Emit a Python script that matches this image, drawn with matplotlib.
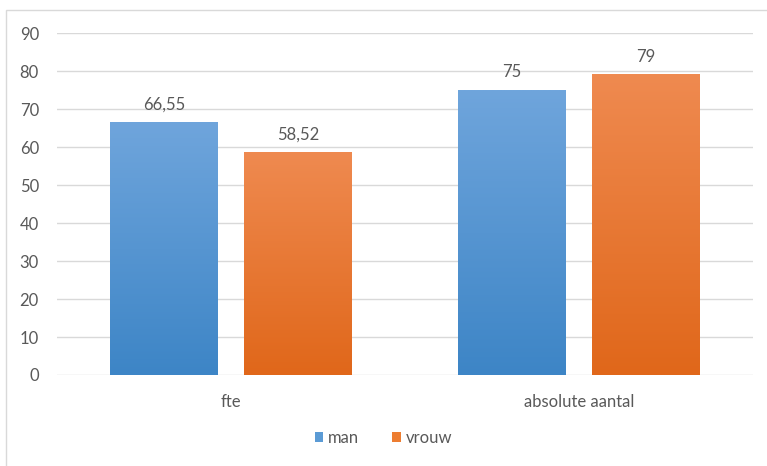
import matplotlib
matplotlib.use("Agg")
import matplotlib.pyplot as plt
import numpy as np
from matplotlib.patches import Rectangle
from matplotlib.colors import LinearSegmentedColormap

# data
categories = ["fte", "absolute aantal"]
series = ["man", "vrouw"]
man = [66.55, 75]
vrouw = [58.52, 79]
labels_man = ["66,55", "75"]
labels_vrouw = ["58,52", "79"]
yticks = [0, 10, 20, 30, 40, 50, 60, 70, 80, 90]

plt.rcParams['font.family'] = ['Lato', 'DejaVu Sans']
text_col = "#595959"

fig = plt.figure(figsize=(7.67, 4.66), dpi=100)
ax = fig.add_axes([0.0743, 0.1953, 0.9077, 0.7337])

# chart border
fig.patches.append(Rectangle((6 / 767, -0.01), 1.0, 1 - 10 / 466 + 0.01,
                             transform=fig.transFigure, fill=False,
                             edgecolor="#d9d9d9", linewidth=1))

x = np.arange(len(categories))
w = 0.31
off = 0.1925

grads = {
    "man": LinearSegmentedColormap.from_list("m", ["#3d85c6", "#6fa5dc"]),
    "vrouw": LinearSegmentedColormap.from_list("v", ["#e0671a", "#ef8a50"]),
}
flat = {"man": "#5b9bd5", "vrouw": "#ed7d31"}

for vals, labs, name, sgn in [(man, labels_man, "man", -1), (vrouw, labels_vrouw, "vrouw", 1)]:
    bars = ax.bar(x + sgn * off, vals, w, color=flat[name], label=name, zorder=2)
    for b, lab in zip(bars, labs):
        x0, h = b.get_x(), b.get_height()
        grad = np.linspace(0, 1, 256).reshape(-1, 1)
        ax.imshow(grad, cmap=grads[name], origin="lower", aspect="auto",
                  extent=(x0, x0 + b.get_width(), 0, h), zorder=3)
        ax.annotate(lab, (x0 + b.get_width() / 2, h), xytext=(0, 7),
                    textcoords="offset points", ha="center", va="bottom",
                    fontsize=12, color=text_col)

ax.set_xlim(-0.5, 1.5)
ax.set_ylim(0, 90)
ax.set_yticks(yticks)
ax.set_xticks(x)
ax.set_xticklabels(categories)
ax.tick_params(axis="both", length=0, labelsize=12, colors=text_col)
ax.tick_params(axis="y", pad=13)
ax.tick_params(axis="x", pad=14)
ax.yaxis.grid(True, color="#d9d9d9", linewidth=1, zorder=0)
ax.set_axisbelow(True)
for s in ax.spines.values():
    s.set_visible(False)

leg = fig.legend(loc="center", bbox_to_anchor=(0.5, 1 - 438 / 466), ncol=2,
                 frameon=False, fontsize=12, handlelength=0.5, handleheight=0.6,
                 handletextpad=0.3, columnspacing=2.0)
for t in leg.get_texts():
    t.set_color(text_col)

fig.savefig("out.png", dpi=100)
